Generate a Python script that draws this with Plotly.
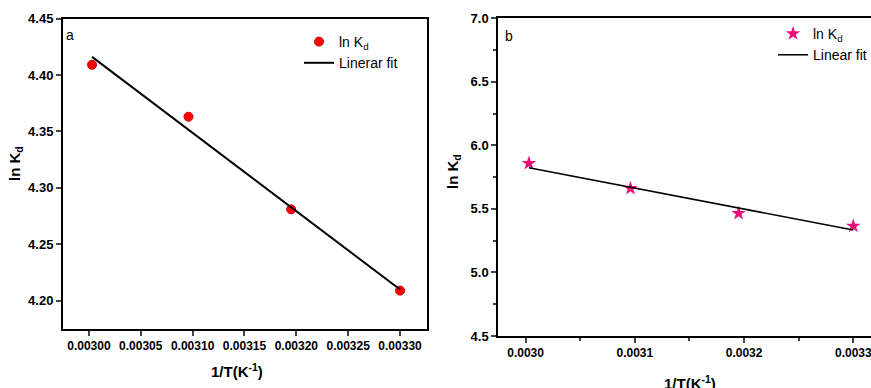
import plotly.graph_objects as go

# Panel a data
inv_T_a = [0.003003, 0.003096, 0.003195, 0.003300]
lnKd_a = [4.409, 4.363, 4.281, 4.209]
fit_x_a = [0.003003, 0.003300]
fit_y_a = [4.416, 4.210]

# Panel b data
inv_T_b = [0.003003, 0.003096, 0.003195, 0.003300]
lnKd_b = [5.859, 5.662, 5.465, 5.365]
fit_x_b = [0.003003, 0.003300]
fit_y_b = [5.824, 5.334]

W, H = 871, 388
FONT = "Liberation Sans, Arial, sans-serif"

fig = go.Figure()
fig.add_trace(go.Scatter(x=inv_T_a, y=lnKd_a, mode="markers", name="ln K<sub>d</sub>",
                         marker=dict(color="#ff0000", size=9, line=dict(color="#d00000", width=1)),
                         xaxis="x", yaxis="y", legend="legend"))
fig.add_trace(go.Scatter(x=fit_x_a, y=fit_y_a, mode="lines", name="Linerar fit",
                         line=dict(color="black", width=2),
                         xaxis="x", yaxis="y", legend="legend"))
fig.add_trace(go.Scatter(x=inv_T_b, y=lnKd_b, mode="markers", name="ln K<sub>d</sub>",
                         marker=dict(color="#ee0a78", size=11, symbol="star"),
                         xaxis="x2", yaxis="y2", legend="legend2"))
fig.add_trace(go.Scatter(x=fit_x_b, y=fit_y_b, mode="lines", name="Linear fit",
                         line=dict(color="black", width=1.5),
                         xaxis="x2", yaxis="y2", legend="legend2"))

xtickfont = dict(family=FONT, size=12, color="black", weight="bold")
ytickfont = dict(family=FONT, size=13, color="black", weight="bold")
titlefont = dict(family=FONT, size=15, color="black", weight="bold")

def px_x(p):
    return p / W

def px_y(p):
    return 1 - p / H

common = dict(ticks="outside", ticklen=5, tickwidth=1.5, showline=True, linewidth=2,
              linecolor="black", showgrid=False, zeroline=False, automargin=False,
              ticklabeloverflow="allow")

fig.update_layout(
    width=W, height=H,
    margin=dict(l=0, r=0, t=0, b=0, autoexpand=False),
    paper_bgcolor="white", plot_bgcolor="white",
    font=dict(family=FONT, color="black"),
    xaxis=dict(domain=[px_x(63), px_x(427)], range=[0.002975, 0.003326], anchor="y",
               tick0=0.003, dtick=0.00005, tickformat=".5f", mirror=True, tickfont=xtickfont, **common),
    yaxis=dict(domain=[px_y(329), px_y(18.5)], range=[4.175, 4.45], anchor="x",
               tick0=4.2, dtick=0.05, tickformat=".2f", mirror=True, tickfont=ytickfont, **common),
    xaxis2=dict(domain=[px_x(498.3), 1], range=[0.002975, 0.0033162], anchor="y2",
                tick0=0.003, dtick=0.0001, tickformat=".4f", mirror=True, tickfont=xtickfont,
                minor=dict(dtick=0.00005, ticks="outside", ticklen=3, tickwidth=1.5), **common),
    yaxis2=dict(domain=[px_y(336), px_y(18.3)], range=[4.5, 7.0], anchor="x2",
                tick0=4.5, dtick=0.5, tickformat=".1f", mirror=False, tickfont=ytickfont,
                minor=dict(dtick=0.25, ticks="outside", ticklen=3, tickwidth=1.5), **common),
    legend=dict(x=px_x(299), y=px_y(26), xanchor="left", yanchor="top",
                bgcolor="rgba(0,0,0,0)", font=dict(family=FONT, size=14, color="black"),
                tracegroupgap=0),
    legend2=dict(x=px_x(773), y=px_y(18), xanchor="left", yanchor="top",
                 bgcolor="rgba(0,0,0,0)", font=dict(family=FONT, size=14, color="black"),
                 tracegroupgap=0),
    showlegend=True,
    annotations=[
        dict(text="a", x=px_x(70), y=px_y(35), xref="paper", yref="paper", showarrow=False,
             xanchor="center", yanchor="middle", font=dict(family=FONT, size=14, color="black")),
        dict(text="b", x=px_x(509), y=px_y(36), xref="paper", yref="paper", showarrow=False,
             xanchor="center", yanchor="middle", font=dict(family=FONT, size=14, color="black")),
        dict(text="ln K<sub>d</sub>", x=px_x(15), y=px_y(163), xref="paper", yref="paper",
             showarrow=False, textangle=-90, xanchor="center", yanchor="middle", font=titlefont),
        dict(text="ln K<sub>d</sub>", x=px_x(453), y=px_y(172), xref="paper", yref="paper",
             showarrow=False, textangle=-90, xanchor="center", yanchor="middle", font=titlefont),
        dict(text="1/T(K<sup>-1</sup>)", x=px_x(237), y=px_y(370), xref="paper", yref="paper",
             showarrow=False, xanchor="center", yanchor="middle", font=titlefont),
        dict(text="1/T(K<sup>-1</sup>)", x=px_x(690), y=px_y(382), xref="paper", yref="paper",
             showarrow=False, xanchor="center", yanchor="middle", font=titlefont),
    ],
)

fig.write_html("out.html", config={"displayModeBar": False},
               post_script="document.body.style.margin='0';")
